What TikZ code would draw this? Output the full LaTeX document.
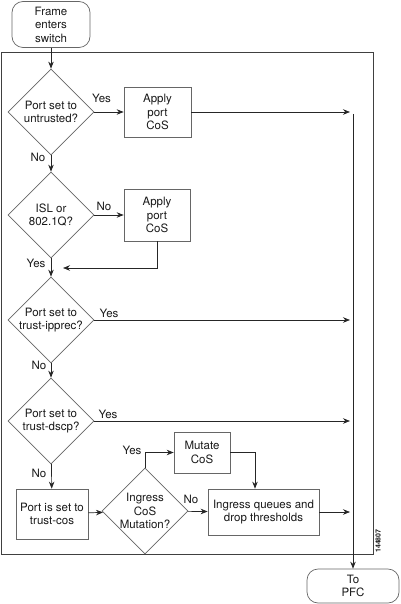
\documentclass[tikz,border=0pt]{standalone}
\usepackage{fontspec}
\setmainfont{TeX Gyre Heros}
\usetikzlibrary{arrows.meta,shapes.geometric}
\begin{document}
\begin{tikzpicture}[x=1pt,y=-1pt,
  every node/.style={font=\fontsize{11.5}{13.5}\selectfont, align=center, text=black!90},
  box/.style={draw=black!60, line width=0.7pt, inner sep=0pt},
  term/.style={box, rounded corners=11pt},
  dia/.style={draw=black!60, line width=0.7pt, shape=diamond, minimum width=86pt, minimum height=86pt, inner sep=0pt},
  arr/.style={draw=black!85, line width=0.7pt, -{Stealth[length=7pt,width=5.5pt]}},
  ln/.style={draw=black!85, line width=0.7pt},
  lbl/.style={inner sep=0pt}]
\useasboundingbox (0,0) rectangle (400,604);
% outer frame
\draw[draw=black!75, line width=0.7pt] (1,52) rectangle (373,554);
% terminators
\node[term, minimum width=78pt, minimum height=46pt] (start) at (51,24.5) {Frame\\enters\\switch};
\node[term, minimum width=92pt, minimum height=34pt] (pfc) at (353,586) {To\\PFC};
% decisions
\node[dia] (d1) at (51,112) {};
\node (d1t) at (d1) {Port set to\\untrusted?};
\node[dia] (d2) at (51,215) {};
\node (d2t) at (d2) {ISL or\\802.1Q?};
\node[dia] (d3) at (51,320) {};
\node (d3t) at (d3) {Port set to\\trust-ipprec?};
\node[dia] (d4) at (51,421) {};
\node (d4t) at (d4) {Port set to\\trust-dscp?};
\node[dia] (d5) at (145,511) {};
\node (d5t) at (d5) {Ingress\\CoS\\Mutation?};
% process boxes
\node[box, minimum width=67pt, minimum height=50pt] (b1) at (157.5,112) {Apply\\port\\CoS};
\node[box, minimum width=66pt, minimum height=52pt] (b2) at (157,215) {Apply\\port\\CoS};
\node[box, minimum width=72pt, minimum height=50pt] (tc) at (52,514) {Port is set to\\trust-cos};
\node[box, minimum width=56pt, minimum height=41pt] (mut) at (202,452.5) {Mutate\\CoS};
\node[box, minimum width=111pt, minimum height=46pt] (ing) at (263.5,512) {Ingress queues and\\drop thresholds};
% coordinates
\coordinate (r1) at (350,112);
\coordinate (r3) at (350,320);
\coordinate (r4) at (350,421);
\coordinate (r5) at (350,512);
\coordinate (vtop) at (353,114);
\coordinate (j) at (63,268);
% connectors
\draw[arr] (start) -- (d1);
\draw[arr] (d1) -- (b1);
\draw[arr] (b1) -- (r1);
\draw[arr] (d1) -- (d2);
\draw[arr] (d2) -- (b2);
\draw[arr] (b2.south) |- (j);
\draw[arr] (d2) -- (d3);
\draw[arr] (d3) -- (r3);
\draw[arr] (d3) -- (d4);
\draw[arr] (d4) -- (r4);
\draw[arr] (d4) -- (tc);
\draw[arr] (tc) -- (d5);
\draw[arr] (d5.north) |- (mut.west);
\draw[arr] (mut.east) -| ([xshift=-8.5pt]ing.north);
\draw[arr] (d5) -- (ing);
\draw[arr] (ing) -- (r5);
\draw[arr] (vtop) -- (pfc);
% labels
\node[lbl] (y1) at (101.5,98) {Yes};
\node[lbl] (n1) at (38,157) {No};
\node[lbl] (n2) at (104,206) {No};
\node[lbl] (y2) at (36,263) {Yes};
\node[lbl] (y3) at (109,313) {Yes};
\node[lbl] (n3) at (39,365) {No};
\node[lbl] (y4) at (108,414) {Yes};
\node[lbl] (n4) at (39,473) {No};
\node[lbl] (y5) at (132,450) {Yes};
\node[lbl] (n5) at (191,499) {No};
\node[lbl, rotate=90, font=\bfseries\fontsize{7}{8}\selectfont] (id) at (378,541) {144807};
\end{tikzpicture}
\end{document}
